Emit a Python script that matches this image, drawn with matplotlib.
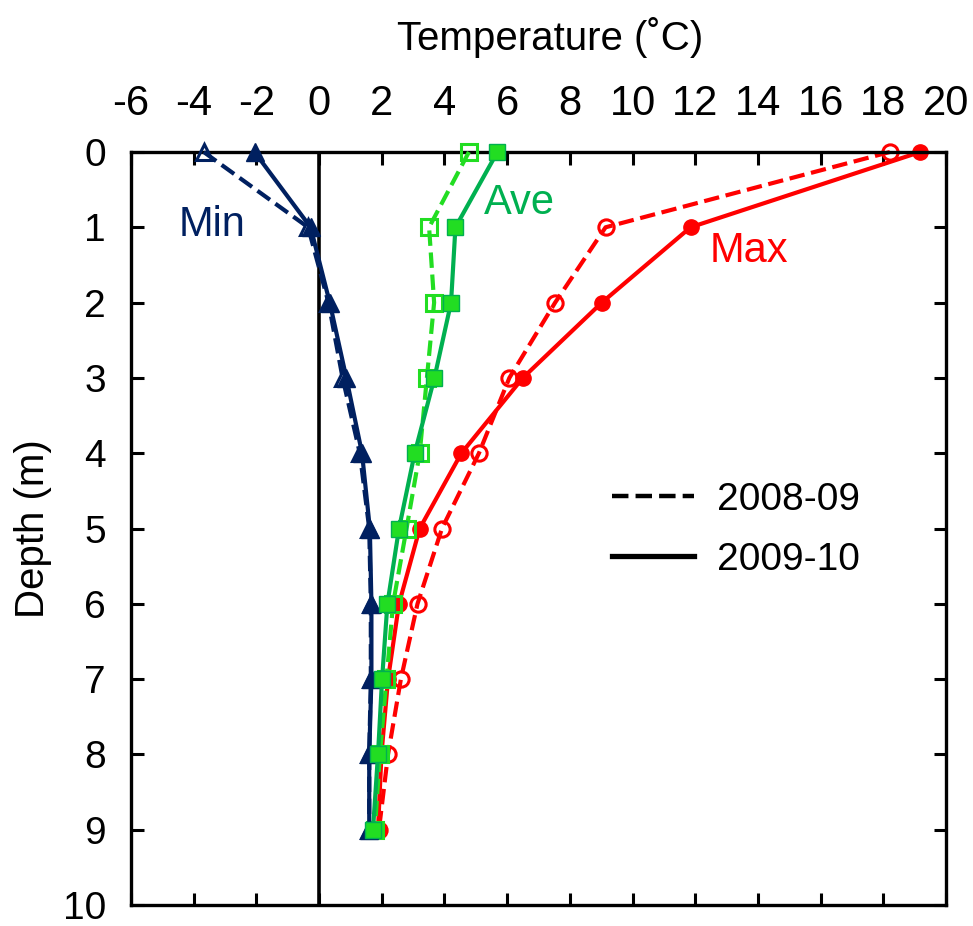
import matplotlib
matplotlib.use("Agg")
import matplotlib.pyplot as plt
from matplotlib.lines import Line2D

# ---- data ----
depth = [0, 1, 2, 3, 4, 5, 6, 7, 8, 9]
min_0809 = [-3.68, -0.35, 0.30, 0.75, 1.30, 1.60, 1.65, 1.65, 1.60, 1.60]
min_0910 = [-2.06, -0.27, 0.34, 0.87, 1.37, 1.62, 1.67, 1.67, 1.60, 1.60]
ave_0809 = [4.78, 3.51, 3.67, 3.44, 3.21, 2.79, 2.36, 2.15, 1.94, 1.78]
ave_0910 = [5.69, 4.35, 4.21, 3.68, 3.05, 2.55, 2.18, 2.01, 1.88, 1.72]
max_0809 = [18.21, 9.14, 7.53, 6.07, 5.10, 3.92, 3.14, 2.61, 2.20, 1.91]
max_0910 = [19.18, 11.85, 9.02, 6.50, 4.54, 3.21, 2.55, 2.20, 1.99, 1.88]
xticks = [-6, -4, -2, 0, 2, 4, 6, 8, 10, 12, 14, 16, 18, 20]
yticks = [0, 1, 2, 3, 4, 5, 6, 7, 8, 9, 10]
legend_labels = ["2008-09", "2009-10"]

NARROW = ["Liberation Sans Narrow", "Liberation Sans", "DejaVu Sans"]
REG = ["Liberation Sans", "DejaVu Sans"]

NAVY = "#002060"
GREEN_D = "#00B050"
GREEN_L = "#22DD22"
RED = "#FF0000"

fig = plt.figure(figsize=(9.73, 9.26), dpi=100)
ax = fig.add_axes([131/973, 1 - 905/926, (946-131)/973, (905-152)/926])

lw = 3.0
# zero line
ax.axvline(0, color="black", lw=2.6, zorder=1)

# Min
ax.plot(min_0809, depth, ls="--", color=NAVY, lw=lw, marker="^", ms=12,
        mfc="none", mec=NAVY, mew=2.2, clip_on=False, zorder=3)
ax.plot(min_0910, depth, ls="-", color=NAVY, lw=lw, marker="^", ms=12.5,
        mfc=NAVY, mec=NAVY, clip_on=False, zorder=4)
# Ave
ax.plot(ave_0809, depth, ls="--", color=GREEN_L, lw=lw, marker="s", ms=11,
        mfc="none", mec=GREEN_L, mew=2.2, clip_on=False, zorder=3)
ax.plot(ave_0910, depth, ls="-", color=GREEN_D, lw=lw, marker="s", ms=11,
        mfc=GREEN_L, mec=GREEN_D, mew=1, clip_on=False, zorder=4)
# Max
ax.plot(max_0809, depth, ls="--", color=RED, lw=lw, marker="o", ms=11,
        mfc="none", mec=RED, mew=2.2, clip_on=False, zorder=2)
ax.plot(max_0910, depth, ls="-", color=RED, lw=lw, marker="o", ms=11,
        mfc=RED, mec=RED, clip_on=False, zorder=2)

ax.set_xlim(-6, 20)
ax.set_ylim(10, 0)
ax.set_xticks(xticks)
ax.set_yticks(yticks)
ax.set_xticklabels([str(t) for t in xticks], fontsize=30, family=NARROW)
ax.set_yticklabels([str(t) for t in yticks], fontsize=28, family=REG)
ax.xaxis.tick_top()
ax.tick_params(axis="both", direction="in", length=9, width=2.2,
               top=True, bottom=True, left=True, right=True)
ax.tick_params(axis="x", pad=20)
ax.tick_params(axis="y", pad=18)
for s in ax.spines.values():
    s.set_linewidth(2.4)

ax.set_xlabel("Temperature (˚C)", fontsize=29, family=NARROW)
ax.xaxis.set_label_position("top")
ax.set_ylabel("Depth (m)", fontsize=29, family=REG)
ax.xaxis.set_label_coords((550-131)/815, 1 + (152-37)/753)
ax.yaxis.set_label_coords(-(131-33)/815, 0.5)
ax.xaxis.label.set_va("center")
ax.yaxis.label.set_va("center")

ax.text(-3.4, 0.97, "Min", color=NAVY, fontsize=30, family=NARROW, ha="center", va="center")
ax.text(6.4, 0.68, "Ave", color=GREEN_D, fontsize=30, family=NARROW, ha="center", va="center")
ax.text(13.7, 1.32, "Max", color=RED, fontsize=30, family=NARROW, ha="center", va="center")

handles = [Line2D([], [], color="black", ls="--", lw=3.2),
           Line2D([], [], color="black", ls="-", lw=3.8)]
ax.legend(handles=handles, labels=legend_labels, loc="center left",
          bbox_to_anchor=((577-131)/815, 1 - (530-152)/753), frameon=False,
          prop={"family": REG, "size": 28}, handlelength=2.1, handletextpad=0.6,
          labelspacing=0.62)

fig.savefig("out.png", dpi=100)
